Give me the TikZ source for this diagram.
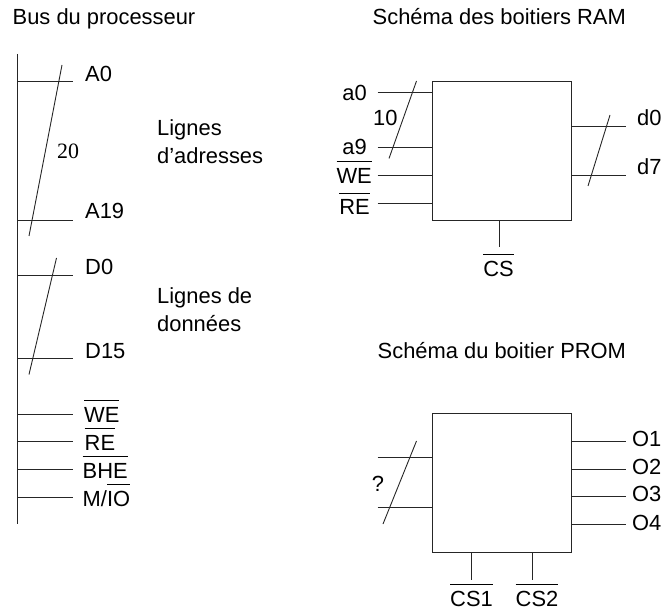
\documentclass[tikz,border=0pt]{standalone}
\usepackage{fontspec}
\setmainfont{Liberation Sans}
\newfontfamily\serifnum{Liberation Serif}
\newcommand\ovl[1]{\vbox{\hrule height 0.9pt\kern 6.3pt\hbox{#1}}}
\tikzset{
  wire/.style={line width=0.9pt,draw=black!85},
  boxic/.style={draw=black!85,line width=0.9pt,minimum width=138.6pt,minimum height=138.6pt,inner sep=0pt},
  lab/.style={inner sep=0pt,anchor=base west,font=\fontsize{21.9}{24}\selectfont},
  labr/.style={inner sep=0pt,anchor=base east,font=\fontsize{21.9}{24}\selectfont},
  labc/.style={inner sep=0pt,anchor=base,font=\fontsize{21.9}{24}\selectfont}
}
\begin{document}
\begin{tikzpicture}[x=1pt,y=-1pt]
\useasboundingbox (0,0) rectangle (661,612);
% titles
\node[lab] (tbus) at (12.5,25) {Bus du processeur};
\node[lab] (tram) at (372.5,25) {Schéma des boitiers RAM};
\node[lab] (tprom) at (377.5,358) {Schéma du boitier PROM};
% bus
\coordinate (bustop) at (17.5,54);
\coordinate (busbot) at (17.5,524);
\draw[wire] (bustop) -- (busbot);
\foreach \n/\y in {a/81,b/220,c/275.5,d/358,e/414,f/441.5,g/469,h/497}{
  \coordinate (s\n) at (73,\y);
  \draw[wire] (bustop |- s\n) -- (s\n);
}
\coordinate (sa1) at (62,65); \coordinate (sa2) at (29,236);
\draw[wire] (sa1) -- (sa2);
\coordinate (sd1) at (56.5,258); \coordinate (sd2) at (29,374.5);
\draw[wire] (sd1) -- (sd2);
\node[lab] (A0) at (85,82) {A0};
\node[lab] (A19) at (85,219) {A19};
\node[lab] (D0) at (85,275) {D0};
\node[lab] (D15) at (85,358) {D15};
\node[lab] (WEb) at (84,422.7) {\ovl{WE}};
\node[lab] (REb) at (84.5,450.7) {\ovl{RE}};
\node[lab] (BHE) at (82.5,478) {\ovl{BHE}};
\node[lab] (MIO) at (82.5,506) {M/\ovl{IO}};
\node[inner sep=0pt,anchor=base west,font=\fontsize{21.9}{24}\selectfont\serifnum] (n20) at (57,158.7) {20};
\node[lab] (l1) at (157,136) {Lignes};
\node[lab] (l2) at (157,164) {d’adresses};
\node[lab] (l3) at (157,303) {Lignes de};
\node[lab] (l4) at (157,331) {données};
% RAM
\node[boxic] (ram) at (502,150.8) {};
\foreach \n/\y in {a/92.5,b/147.5,c/175.5,d/203}{
  \coordinate (ri\n) at (377.5,\y);
  \draw[wire] (ri\n) -- (ri\n -| ram.west);
}
\foreach \n/\y in {a/126,b/175.5}{
  \coordinate (ro\n) at (626,\y);
  \draw[wire] (ram.east |- ro\n) -- (ro\n);
}
\coordinate (rs1) at (416.5,81); \coordinate (rs2) at (389,158.5);
\draw[wire] (rs1) -- (rs2);
\coordinate (rs3) at (610,115); \coordinate (rs4) at (588,186);
\draw[wire] (rs3) -- (rs4);
\coordinate (rcs) at (499.3,247.5);
\draw[wire] (rcs |- ram.south) -- (rcs);
\node[labr] (a0) at (367,101) {a0};
\node[lab] (n10) at (373,126) {10};
\node[labr] (a9) at (367,155) {a9};
\node[labr] (WEr) at (372,183.7) {\ovl{WE}};
\node[labr] (REr) at (370,215) {\ovl{RE}};
\node[labc] (CSr) at (498.5,276.7) {\ovl{CS}};
\node[lab] (d0) at (637,126) {d0};
\node[lab] (d7) at (637,175) {d7};
% PROM
\node[boxic] (prom) at (502,482.8) {};
\foreach \n/\y in {a/457.7,b/507.7}{
  \coordinate (pi\n) at (377.5,\y);
  \draw[wire] (pi\n) -- (pi\n -| prom.west);
}
\foreach \n/\y in {a/441.5,b/469,c/496.5,d/524}{
  \coordinate (po\n) at (626,\y);
  \draw[wire] (prom.east |- po\n) -- (po\n);
}
\coordinate (ps1) at (416.5,441); \coordinate (ps2) at (383,524);
\draw[wire] (ps1) -- (ps2);
\coordinate (pc1) at (471.5,579.5); \coordinate (pc2) at (532.5,579.5);
\draw[wire] (pc1 |- prom.south) -- (pc1);
\draw[wire] (pc2 |- prom.south) -- (pc2);
\node[labc] (q) at (378,491) {?};
\node[lab] (O1) at (632,446.7) {O1};
\node[lab] (O2) at (632,474) {O2};
\node[lab] (O3) at (632,501.7) {O3};
\node[lab] (O4) at (632,530) {O4};
\node[labc] (CS1) at (471.5,606.7) {\ovl{CS1}};
\node[labc] (CS2) at (537,606.7) {\ovl{CS2}};
\end{tikzpicture}
\end{document}
